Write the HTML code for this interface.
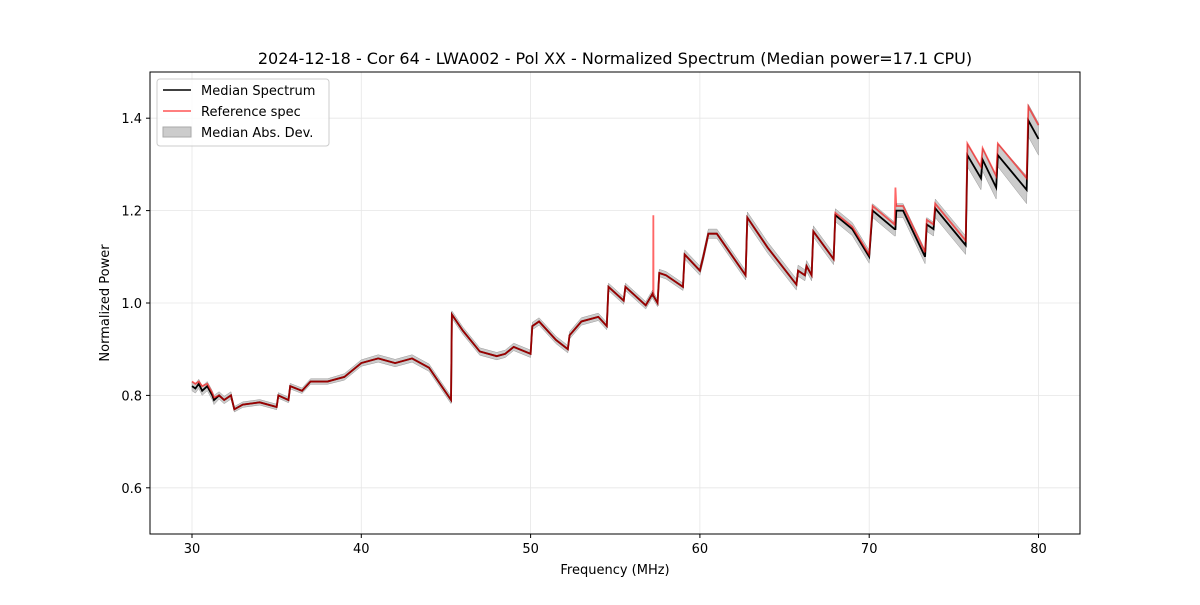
<!DOCTYPE html>
<html><head><meta charset="utf-8">
<style>
body{margin:0;background:#fff;font-family:"Liberation Sans","DejaVu Sans",sans-serif;}
svg text{font-family:"DejaVu Sans","Liberation Sans",sans-serif;}
</style></head>
<body>
<svg id="chart" width="1200" height="600">
<rect width="1200" height="600" fill="#fff"/>
<g id="grid"></g>
<g id="band"></g>
<g id="lines"></g>
<rect x="150" y="72" width="930" height="462" fill="none" stroke="#000" stroke-width="1"/>
<g id="axes"></g>
<text x="615" y="64" text-anchor="middle" font-size="16">2024-12-18 - Cor 64 - LWA002 - Pol XX - Normalized Spectrum (Median power=17.1 CPU)</text>
<text x="615" y="574" text-anchor="middle" font-size="13">Frequency (MHz)</text>
<text x="109" y="303" text-anchor="middle" font-size="13" transform="rotate(-90 109 303)">Normalized Power</text>
<g>
<rect x="157" y="79" width="172" height="67" rx="3" fill="#fff" fill-opacity="0.8" stroke="#ccc"/>
<line x1="163" y1="90" x2="191" y2="90" stroke="#000" stroke-width="1.6"/>
<text x="201" y="95" font-size="13">Median Spectrum</text>
<line x1="163" y1="111" x2="191" y2="111" stroke="#f55" stroke-width="1.6"/>
<text x="201" y="116" font-size="13">Reference spec</text>
<rect x="163" y="127" width="28" height="10" fill="#ccc" stroke="#aaa"/>
<text x="201" y="137" font-size="13">Median Abs. Dev.</text>
</g>
</svg>
<script>
const freqs=[30.0,30.2,30.4,30.6,30.9,31.2,31.3,31.6,31.9,32.3,32.5,33,34,35,35.1,35.7,35.8,36.5,37,38,39,40,41,42,43,44,45.3,45.35,46,47,48,48.5,49,50,50.1,50.5,51.5,52.2,52.3,53,54,54.5,54.6,55.5,55.6,56.8,57.2,57.24,57.25,57.26,57.5,57.6,58,59,59.1,60,60.2,60.5,61,62.7,62.8,64,65.7,65.8,66.2,66.3,66.6,66.7,67.9,68,69,70,70.2,71.5,71.55,71.6,72,73.3,73.4,73.8,73.9,75.7,75.8,76.6,76.7,77.5,77.6,79.3,79.4,80];
const median=[0.82,0.815,0.825,0.81,0.82,0.80,0.79,0.80,0.79,0.80,0.77,0.78,0.785,0.775,0.80,0.79,0.82,0.81,0.83,0.83,0.84,0.87,0.88,0.87,0.88,0.86,0.79,0.975,0.94,0.895,0.885,0.89,0.905,0.89,0.95,0.96,0.92,0.90,0.93,0.96,0.97,0.95,1.035,1.005,1.035,0.995,1.02,1.015,1.015,1.015,1.0,1.065,1.06,1.035,1.105,1.07,1.10,1.15,1.15,1.06,1.185,1.12,1.04,1.07,1.06,1.08,1.06,1.155,1.095,1.19,1.16,1.10,1.20,1.16,1.16,1.20,1.20,1.10,1.17,1.16,1.205,1.125,1.32,1.27,1.31,1.25,1.32,1.245,1.395,1.355];
const refOffset=[0.01,0.01,0.005,0.01,0.005,0.005,0.005,0,0,0,0,0,0,0,0,0,0,0,0,0,0,0,0,0,0,0,0,0,0,0,0,0,0,0,0,0,0,0,0,0,0,0,0,0,0,0,0,0,0.175,0,0,0,0,0,0,0,0,0,0,0,0,0,0,0,0,0,0,0,0,0.005,0.005,0.005,0.01,0.01,0.09,0.01,0.01,0.01,0.01,0.01,0.01,0.01,0.025,0.025,0.025,0.025,0.025,0.025,0.03,0.03];
const mad=[0.01,0.01,0.01,0.01,0.01,0.01,0.01,0.008,0.008,0.008,0.006,0.006,0.006,0.006,0.006,0.006,0.006,0.006,0.006,0.006,0.007,0.007,0.008,0.008,0.008,0.008,0.008,0.008,0.008,0.008,0.008,0.008,0.008,0.008,0.008,0.008,0.008,0.008,0.008,0.008,0.008,0.008,0.008,0.008,0.008,0.008,0.008,0.008,0.008,0.008,0.008,0.008,0.008,0.008,0.01,0.01,0.01,0.01,0.01,0.01,0.012,0.012,0.012,0.012,0.012,0.012,0.012,0.012,0.012,0.014,0.014,0.014,0.015,0.015,0.015,0.015,0.015,0.015,0.015,0.015,0.02,0.02,0.025,0.025,0.025,0.025,0.025,0.03,0.035,0.035];
const xTicks=[30,40,50,60,70,80];
const yTicks=[0.6,0.8,1.0,1.2,1.4];

const NS="http://www.w3.org/2000/svg";
const X=f=>192+(f-30)*16.93;
const Y=v=>534-(v-0.5)*462;
function mk(tag,attrs,parent){const e=document.createElementNS(NS,tag);for(const k in attrs)e.setAttribute(k,attrs[k]);document.getElementById(parent).appendChild(e);return e;}
xTicks.forEach(t=>{
  const g=mk('line',{x1:X(t),x2:X(t),y1:72,y2:534,stroke:'#e6e6e6','stroke-width':0.8},'grid');
  
  
  mk('line',{x1:X(t),x2:X(t),y1:534,y2:538,stroke:'#000'},'axes');
  const tx=mk('text',{x:X(t),y:553,'text-anchor':'middle','font-size':13},'axes');tx.textContent=t;
  
  
});
yTicks.forEach(t=>{
  const g=mk('line',{x1:150,x2:1080,y1:Y(t),y2:Y(t),stroke:'#e6e6e6','stroke-width':0.8},'grid');
  
  
  mk('line',{x1:146,x2:150,y1:Y(t),y2:Y(t),stroke:'#000'},'axes');
  const tx=mk('text',{x:142,y:Y(t)+5,'text-anchor':'end','font-size':13},'axes');tx.textContent=t.toFixed(1);
  
  
});
let up=freqs.map((f,i)=>X(f)+','+Y(median[i]+mad[i]));
let dn=freqs.map((f,i)=>X(f)+','+Y(median[i]-mad[i])).reverse();
const band=mk('polygon',{points:up.concat(dn).join(' '),fill:'#bbb','fill-opacity':0.75,stroke:'#999','stroke-width':0.5},'band');


const med=mk('polyline',{points:freqs.map((f,i)=>X(f)+','+Y(median[i])).join(' '),fill:'none',stroke:'#000','stroke-width':1.8},'lines');


const ref=mk('polyline',{points:freqs.map((f,i)=>X(f)+','+Y(median[i]+refOffset[i])).join(' '),fill:'none',stroke:'#f00','stroke-opacity':0.6,'stroke-width':1.8},'lines');


</script>
</body></html>
